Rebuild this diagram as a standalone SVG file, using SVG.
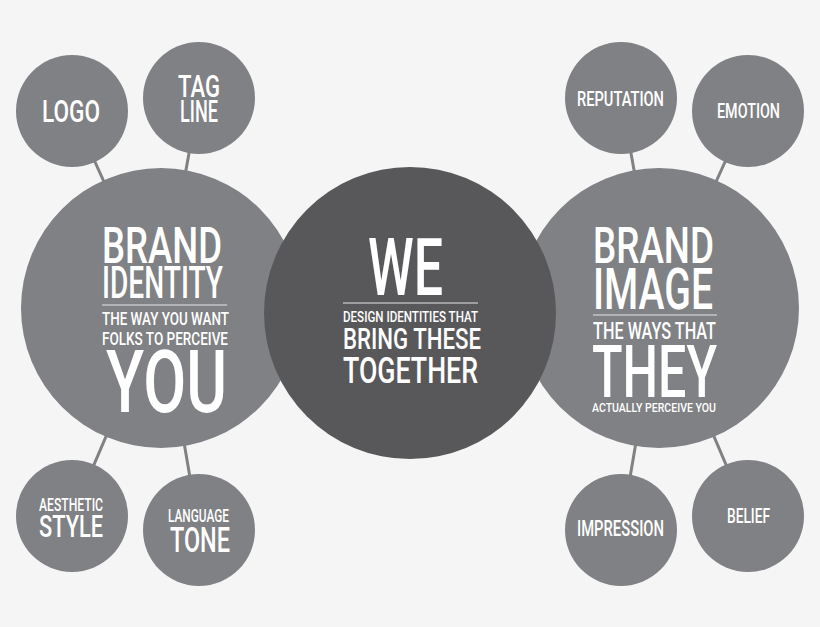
<svg xmlns="http://www.w3.org/2000/svg" width="820" height="627" viewBox="0 0 820 627">
<style>
.bg{fill:#f5f5f5}
.c{fill:#808184}
.cd{fill:#58585a}
.t{fill:#ffffff;font-family:Roboto,"Liberation Sans",sans-serif;font-weight:500}
.rule{stroke:#e6e6e6;stroke-width:1.2}
.conn line{stroke:#808184;stroke-width:3}
</style>
<rect class="bg" x="0" y="0" width="820" height="627"/>
<g id="connectors" class="conn">
<line x1="72" y1="111" x2="161" y2="308"/>
<line x1="199" y1="98" x2="161" y2="308"/>
<line x1="72" y1="516" x2="161" y2="308"/>
<line x1="199" y1="530" x2="161" y2="308"/>
<line x1="621" y1="98" x2="659" y2="308"/>
<line x1="748" y1="111" x2="659" y2="308"/>
<line x1="621" y1="530" x2="659" y2="308"/>
<line x1="748" y1="516" x2="659" y2="308"/>
</g>
<g id="logo">
<circle class="c" cx="72" cy="111" r="56"/>
<text class="t" x="42" y="122" font-size="32" textLength="58" lengthAdjust="spacingAndGlyphs">LOGO</text>
</g>
<g id="tagline">
<circle class="c" cx="199" cy="98" r="56"/>
<text class="t" x="178" y="97" font-size="32" textLength="42" lengthAdjust="spacingAndGlyphs">TAG</text>
<text class="t" x="180" y="122" font-size="32" textLength="38" lengthAdjust="spacingAndGlyphs">LINE</text>
</g>
<g id="aesthetic-style">
<circle class="c" cx="72" cy="516" r="56"/>
<text class="t" x="39" y="511" font-size="18" textLength="64" lengthAdjust="spacingAndGlyphs">AESTHETIC</text>
<text class="t" x="39" y="537" font-size="32" textLength="64" lengthAdjust="spacingAndGlyphs">STYLE</text>
</g>
<g id="language-tone">
<circle class="c" cx="199" cy="530" r="56"/>
<text class="t" x="168" y="522" font-size="18" textLength="61" lengthAdjust="spacingAndGlyphs">LANGUAGE</text>
<text class="t" x="170" y="552" font-size="35" textLength="60" lengthAdjust="spacingAndGlyphs">TONE</text>
</g>
<g id="reputation">
<circle class="c" cx="621" cy="98" r="56"/>
<text class="t" x="577" y="106" font-size="21" textLength="87" lengthAdjust="spacingAndGlyphs">REPUTATION</text>
</g>
<g id="emotion">
<circle class="c" cx="748" cy="111" r="56"/>
<text class="t" x="717" y="118" font-size="21" textLength="63" lengthAdjust="spacingAndGlyphs">EMOTION</text>
</g>
<g id="impression">
<circle class="c" cx="621" cy="530" r="56"/>
<text class="t" x="577" y="536" font-size="22" textLength="87" lengthAdjust="spacingAndGlyphs">IMPRESSION</text>
</g>
<g id="belief">
<circle class="c" cx="748" cy="516" r="56"/>
<text class="t" x="727" y="523" font-size="21" textLength="43" lengthAdjust="spacingAndGlyphs">BELIEF</text>
</g>
<g id="brand-identity">
<circle class="c" cx="161" cy="308" r="140"/>
<text class="t" x="102" y="263" font-size="50" textLength="120" lengthAdjust="spacingAndGlyphs">BRAND</text>
<text class="t" x="102" y="298" font-size="45" textLength="121" lengthAdjust="spacingAndGlyphs">IDENTITY</text>
<line class="rule" x1="102" y1="305" x2="227" y2="305"/>
<text class="t" x="102" y="325" font-size="18.3" textLength="127" lengthAdjust="spacingAndGlyphs">THE WAY YOU WANT</text>
<text class="t" x="102" y="345" font-size="18.3" textLength="126" lengthAdjust="spacingAndGlyphs">FOLKS TO PERCEIVE</text>
<text class="t" x="106" y="412" font-size="87" textLength="121" lengthAdjust="spacingAndGlyphs">YOU</text>
</g>
<g id="brand-image">
<circle class="c" cx="659" cy="308" r="140"/>
<text class="t" x="593" y="263" font-size="50" textLength="121" lengthAdjust="spacingAndGlyphs">BRAND</text>
<text class="t" x="593" y="309" font-size="57" textLength="120" lengthAdjust="spacingAndGlyphs">IMAGE</text>
<line class="rule" x1="593" y1="315" x2="717" y2="315"/>
<text class="t" x="593" y="339" font-size="24" textLength="123" lengthAdjust="spacingAndGlyphs">THE WAYS THAT</text>
<text class="t" x="592" y="397" font-size="73" textLength="125" lengthAdjust="spacingAndGlyphs">THEY</text>
<text class="t" x="592" y="412" font-size="12.7" textLength="124" lengthAdjust="spacingAndGlyphs">ACTUALLY PERCEIVE YOU</text>
</g>
<g id="we">
<circle class="cd" cx="410" cy="313" r="146"/>
<text class="t" x="368" y="295" font-size="79" textLength="75" lengthAdjust="spacingAndGlyphs">WE</text>
<line class="rule" x1="343" y1="303" x2="478" y2="303"/>
<text class="t" x="343" y="322" font-size="15.5" textLength="135" lengthAdjust="spacingAndGlyphs">DESIGN IDENTITIES THAT</text>
<text class="t" x="343" y="349" font-size="30" textLength="138" lengthAdjust="spacingAndGlyphs">BRING THESE</text>
<text class="t" x="343" y="383" font-size="36.5" textLength="135" lengthAdjust="spacingAndGlyphs">TOGETHER</text>
</g>
</svg>
